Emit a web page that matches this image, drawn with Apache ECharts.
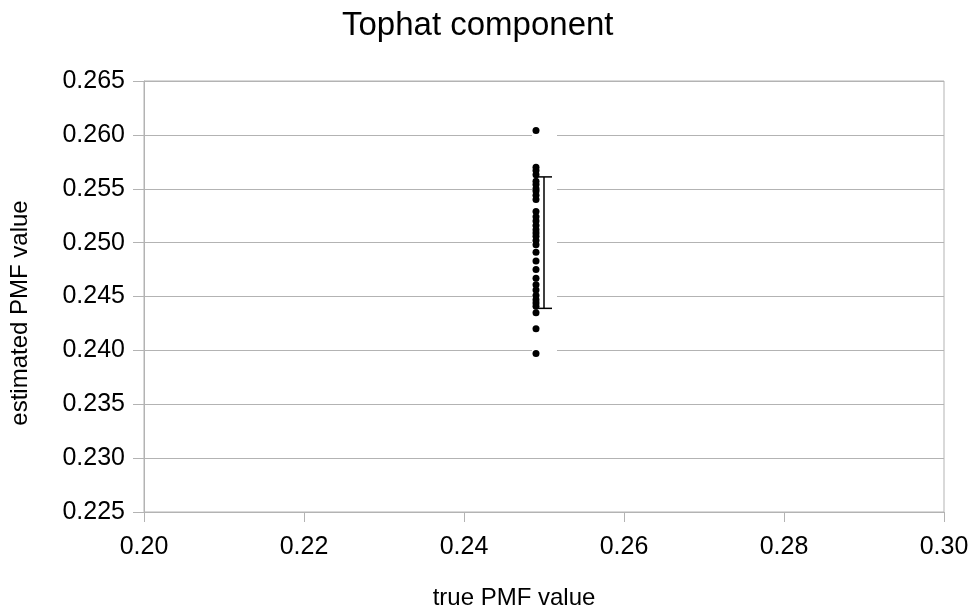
<!DOCTYPE html>
<html>
<head>
<meta charset="utf-8">
<script src="https://cdn.jsdelivr.net/npm/echarts@6/dist/echarts.min.js"></script>
<style>
  html, body { margin: 0; padding: 0; background: #fff; }
  #myChart { width: 977px; height: 609px; }
</style>
</head>
<body>
<div id="myChart"></div>
<script>
// x position of all estimates (true PMF value)
const trueValue = 0.249;
// estimated PMF values
const estimates = [
  0.2604, 0.2570, 0.2567, 0.2563, 0.2557, 0.2554, 0.2550, 0.2548, 0.2544, 0.2540,
  0.2529, 0.2524, 0.2520, 0.2516, 0.2512, 0.2509, 0.2506, 0.2502, 0.2498, 0.2491,
  0.2483, 0.2475, 0.2467, 0.2461, 0.2456, 0.2451, 0.2447, 0.2444, 0.2441, 0.2435,
  0.2420, 0.2397
];
// error bar: x, low, high
const errX = 0.25;
const errLow = 0.2439;
const errHigh = 0.2561;

const gridColor = "#b3b3b3";
const font = "Liberation Sans, Arial, sans-serif";

let myChart = echarts.init(document.getElementById("myChart"), null, { renderer: "canvas" });

let scatterData = estimates.map(v => [trueValue, v]);
let yMin = Math.min(...estimates), yMax = Math.max(...estimates);

myChart.setOption({
  animation: false,
  backgroundColor: "#fff",
  title: {
    text: "Tophat component",
    left: 337,
    top: 4,
    textStyle: { fontFamily: font, fontSize: 33, fontWeight: "normal", color: "#000" }
  },
  grid: {
    left: 144, right: 33, top: 81, bottom: 97,
    outerBoundsMode: "none",
    containLabel: false,
    show: true, borderColor: gridColor, borderWidth: 1
  },
  graphic: [{
    type: "text",
    x: 20, y: 313,
    rotation: Math.PI / 2,
    style: {
      text: "estimated PMF value",
      font: "24px " + font,
      fill: "#000",
      align: "center",
      verticalAlign: "middle"
    }
  }],
  xAxis: {
    type: "value",
    min: 0.2, max: 0.3, interval: 0.02,
    name: "true PMF value",
    nameLocation: "middle",
    nameGap: 74,
    nameTextStyle: { fontFamily: font, fontSize: 24, color: "#000", padding: [0, 60, 0, 0] },
    axisLine: { show: false },
    axisTick: { show: true, length: 10, lineStyle: { color: gridColor } },
    splitLine: { show: false },
    axisLabel: {
      margin: 23, fontFamily: font, fontSize: 25, color: "#000",
      formatter: v => v.toFixed(2)
    }
  },
  yAxis: {
    type: "value",
    min: 0.225, max: 0.265, interval: 0.005,
    axisLine: { show: true, lineStyle: { color: gridColor } },
    axisTick: { show: true, length: 11, lineStyle: { color: gridColor } },
    splitLine: { show: true, lineStyle: { color: gridColor, width: 1 } },
    axisLabel: {
      margin: 19, fontFamily: font, fontSize: 25, color: "#000",
      formatter: v => v.toFixed(3)
    }
  },
  series: [
    {
      // white band behind the points (as in the original render)
      type: "custom",
      silent: true,
      z: 1,
      data: [[trueValue, yMin, yMax]],
      renderItem: (params, api) => {
        let top = api.coord([api.value(0), api.value(2)]);
        let bot = api.coord([api.value(0), api.value(1)]);
        return {
          type: "rect",
          shape: { x: top[0] - 4, y: top[1] - 6, width: 25, height: bot[1] - top[1] + 12 },
          style: { fill: "#fff" }
        };
      }
    },
    {
      type: "custom",
      silent: true,
      z: 3,
      data: [[errX, errLow, errHigh]],
      renderItem: (params, api) => {
        let hi = api.coord([api.value(0), api.value(2)]);
        let lo = api.coord([api.value(0), api.value(1)]);
        let w = 8;
        let st = { stroke: "#000", lineWidth: 1.5 };
        return {
          type: "group",
          children: [
            { type: "line", shape: { x1: hi[0], y1: hi[1], x2: lo[0], y2: lo[1] }, style: st },
            { type: "line", shape: { x1: hi[0] - w, y1: hi[1], x2: hi[0] + w, y2: hi[1] }, style: st },
            { type: "line", shape: { x1: lo[0] - w, y1: lo[1], x2: lo[0] + w, y2: lo[1] }, style: st }
          ]
        };
      }
    },
    {
      type: "scatter",
      z: 4,
      symbol: "circle",
      symbolSize: 7,
      itemStyle: { color: "#000", opacity: 1 },
      data: scatterData
    }
  ]
});
</script>
</body>
</html>
